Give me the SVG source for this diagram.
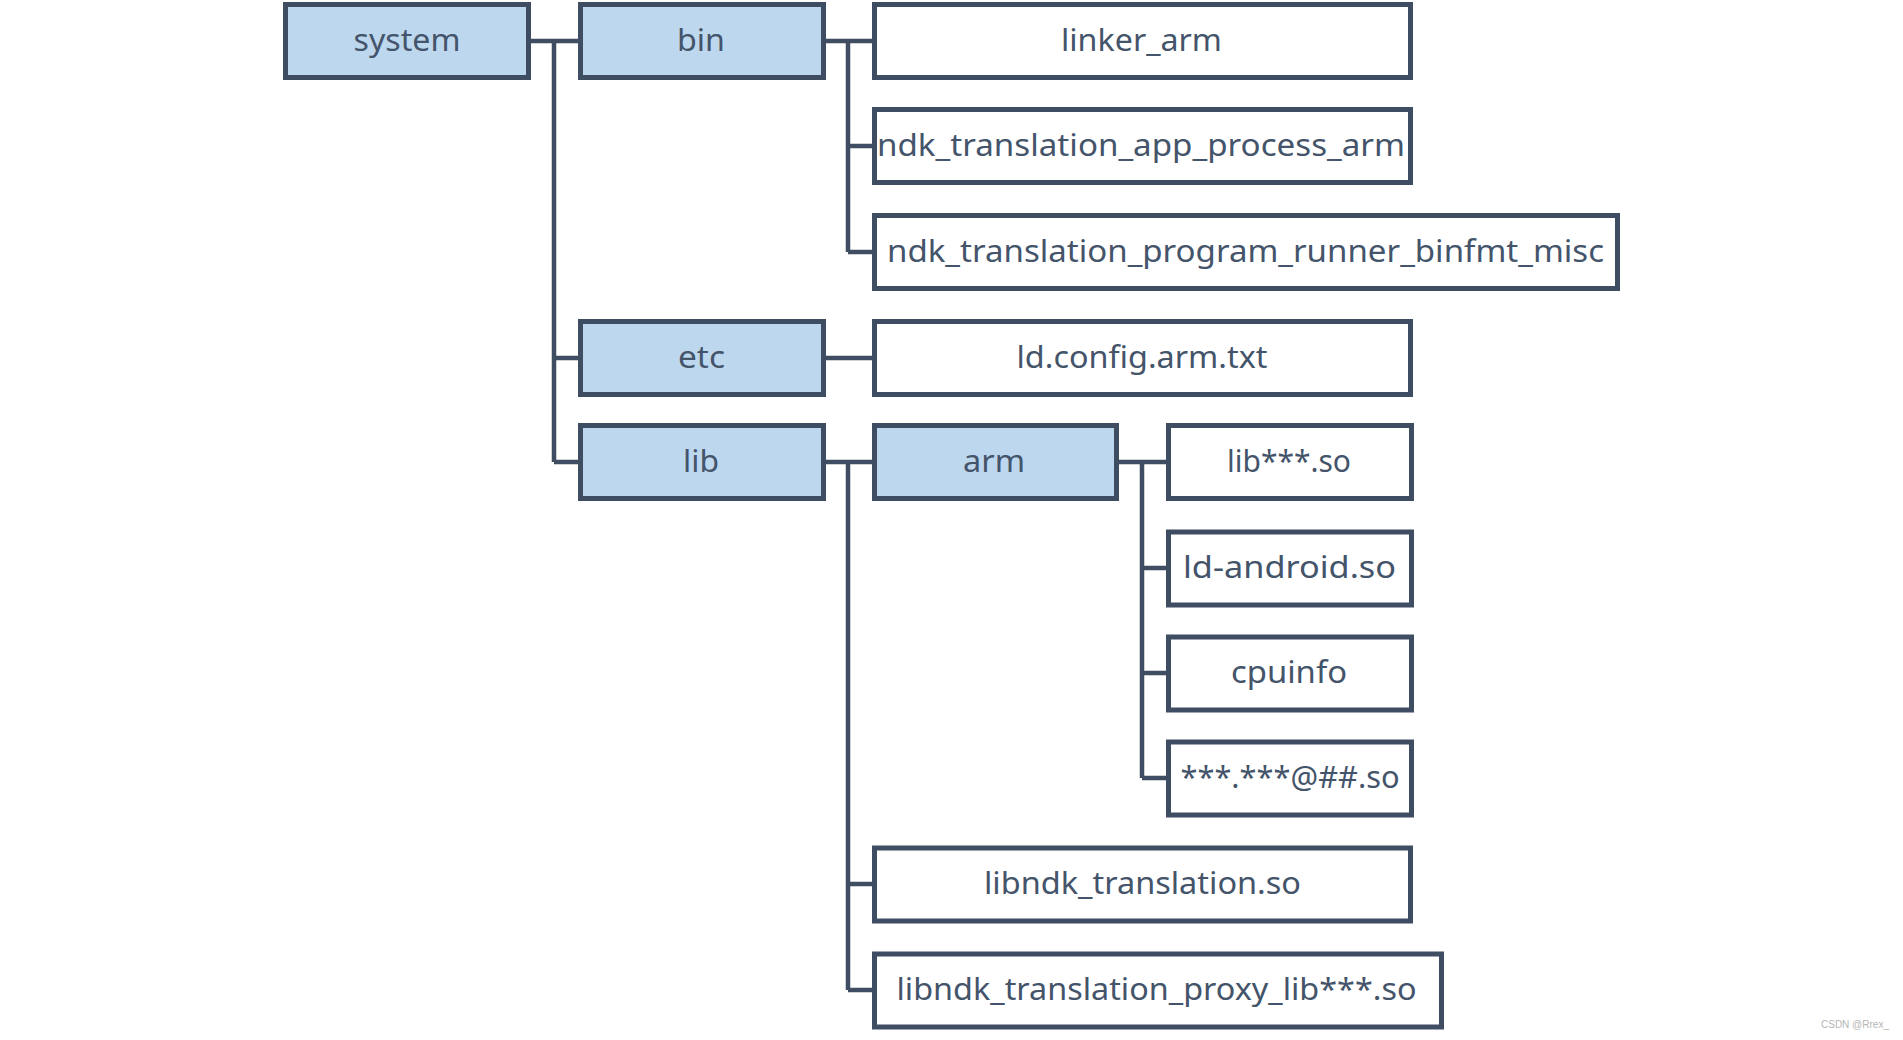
<svg xmlns="http://www.w3.org/2000/svg" width="1903" height="1040" viewBox="0 0 1903 1040">
<style>
.box{fill:#ffffff;stroke:#3F4D62;stroke-width:5}
.dir{fill:#BDD7EE;stroke:#3F4D62;stroke-width:5}
.lbl{font-family:"Noto Sans","Liberation Sans",sans-serif;font-size:30px;fill:#44546A;text-anchor:middle}
.conn{fill:none;stroke:#3F4D62;stroke-width:4.5;stroke-linejoin:miter;stroke-linecap:butt}
.wm{font-family:"Liberation Sans",sans-serif;font-size:10px;fill:#b5b5b5}
</style>
<rect width="1903" height="1040" fill="#ffffff"/>
<g id="connectors">
<path class="conn" d="M531 41H578M554 41V462M554 358H578M554 462H578"/>
<path class="conn" d="M826 41H872M848 41V252M848 146H872M848 252H872"/>
<path class="conn" d="M826 358H872"/>
<path class="conn" d="M826 462H872M848 462V990M848 884H872M848 990H872"/>
<path class="conn" d="M1119 462H1166M1142 462V778M1142 568H1166M1142 673H1166M1142 778H1166"/>
</g>
<g id="system"><rect class="dir" x="285.5" y="4.5" width="243" height="73"/><text class="lbl" x="407" y="50.5" textLength="107" lengthAdjust="spacingAndGlyphs">system</text></g>
<g id="bin"><rect class="dir" x="580.5" y="4.5" width="243" height="73"/><text class="lbl" x="701" y="50.5" textLength="48" lengthAdjust="spacingAndGlyphs">bin</text></g>
<g id="linker_arm"><rect class="box" x="874.5" y="4.5" width="536" height="73"/><text class="lbl" x="1141.5" y="50.5" textLength="161" lengthAdjust="spacingAndGlyphs">linker_arm</text></g>
<g id="app_process"><rect class="box" x="874.5" y="109.5" width="536" height="73"/><text class="lbl" x="1141" y="155.5" textLength="528" lengthAdjust="spacingAndGlyphs">ndk_translation_app_process_arm</text></g>
<g id="program_runner"><rect class="box" x="874.5" y="215.5" width="743" height="73"/><text class="lbl" x="1245.5" y="261.5" textLength="717" lengthAdjust="spacingAndGlyphs">ndk_translation_program_runner_binfmt_misc</text></g>
<g id="etc"><rect class="dir" x="580.5" y="321.5" width="243" height="73"/><text class="lbl" x="701.5" y="367.5" textLength="47" lengthAdjust="spacingAndGlyphs">etc</text></g>
<g id="ld_config"><rect class="box" x="874.5" y="321.5" width="536" height="73"/><text class="lbl" x="1142" y="367.5" textLength="251" lengthAdjust="spacingAndGlyphs">ld.config.arm.txt</text></g>
<g id="lib"><rect class="dir" x="580.5" y="425.5" width="243" height="73"/><text class="lbl" x="701" y="471.5" textLength="36" lengthAdjust="spacingAndGlyphs">lib</text></g>
<g id="arm"><rect class="dir" x="874.5" y="425.5" width="242" height="73"/><text class="lbl" x="994" y="471.5" textLength="62" lengthAdjust="spacingAndGlyphs">arm</text></g>
<g id="lib_so"><rect class="box" x="1168.5" y="425.5" width="243" height="73"/><text class="lbl" x="1289" y="471.5" textLength="124" lengthAdjust="spacingAndGlyphs">lib***.so</text></g>
<g id="ld_android"><rect class="box" x="1168.5" y="532" width="243" height="73"/><text class="lbl" x="1289.5" y="577.5" textLength="213" lengthAdjust="spacingAndGlyphs">ld-android.so</text></g>
<g id="cpuinfo"><rect class="box" x="1168.5" y="637" width="243" height="73"/><text class="lbl" x="1289" y="682.5" textLength="116" lengthAdjust="spacingAndGlyphs">cpuinfo</text></g>
<g id="at_so"><rect class="box" x="1168.5" y="742" width="243" height="73"/><text class="lbl" x="1290" y="787.5" textLength="219" lengthAdjust="spacingAndGlyphs">***.***@##.so</text></g>
<g id="libndk_translation"><rect class="box" x="874.5" y="848" width="536" height="73"/><text class="lbl" x="1142.5" y="893.5" textLength="317" lengthAdjust="spacingAndGlyphs">libndk_translation.so</text></g>
<g id="libndk_proxy"><rect class="box" x="874.5" y="954" width="567" height="73"/><text class="lbl" x="1156.5" y="999.5" textLength="520" lengthAdjust="spacingAndGlyphs">libndk_translation_proxy_lib***.so</text></g>
<text class="wm" x="1821" y="1028">CSDN @Rrex_</text>
</svg>
